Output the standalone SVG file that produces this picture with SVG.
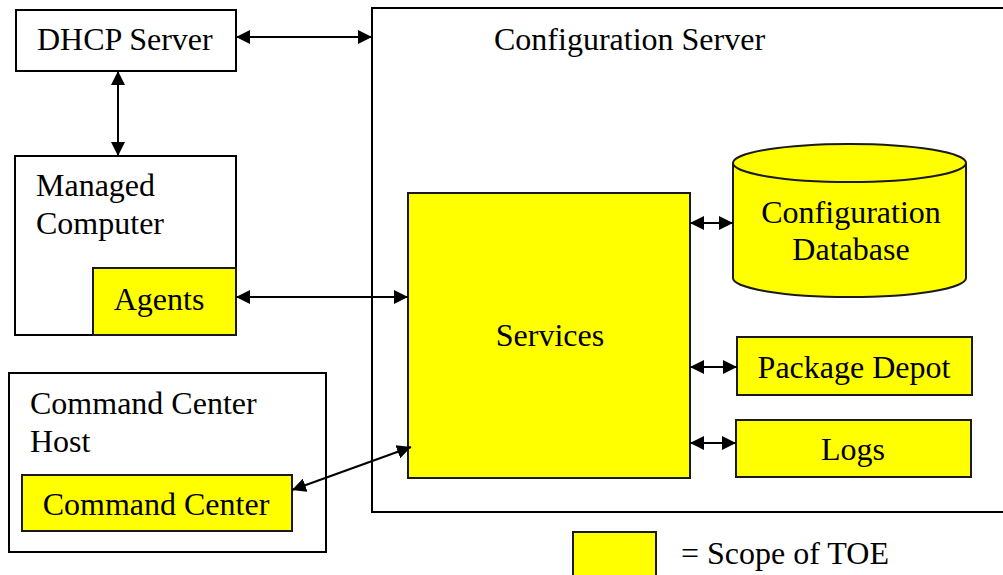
<svg xmlns="http://www.w3.org/2000/svg" width="1003" height="575" viewBox="0 0 1003 575">
  <style>
    .box { fill: #ffffff; stroke: #000000; stroke-width: 2; }
    .toe { fill: #ffff00; stroke: #1a1a1a; stroke-width: 2; }
    .lbl { font-family: "Liberation Serif", "Times New Roman", serif; font-size: 32px; fill: #000000; }
    .mid { text-anchor: middle; }
    .conn { stroke: #000000; stroke-width: 2; fill: none; marker-start: url(#head); marker-end: url(#head); }
  </style>
  <defs>
    <marker id="head" viewBox="0 0 14 14" refX="14" refY="7" markerWidth="14" markerHeight="14" markerUnits="userSpaceOnUse" orient="auto-start-reverse">
      <path d="M0,0 L14,7 L0,14 Z" fill="#000000"/>
    </marker>
  </defs>

  <rect width="1003" height="575" fill="#ffffff"/>

  <g id="config-server">
    <rect class="box" x="372" y="8" width="640" height="504"/>
    <text class="lbl" x="494" y="50">Configuration Server</text>
  </g>

  <g id="dhcp-server">
    <rect class="box" x="16" y="10" width="220" height="61"/>
    <text class="lbl" x="37" y="50">DHCP Server</text>
  </g>

  <g id="managed-computer">
    <rect class="box" x="15" y="156" width="221" height="179"/>
    <text class="lbl" x="36" y="196">Managed</text>
    <text class="lbl" x="36" y="234">Computer</text>
  </g>

  <g id="agents">
    <rect class="toe" x="93" y="268" width="143" height="67"/>
    <text class="lbl mid" x="159" y="310">Agents</text>
  </g>

  <g id="command-center-host">
    <rect class="box" x="9" y="373" width="317" height="179"/>
    <text class="lbl" x="30" y="414">Command Center</text>
    <text class="lbl" x="30" y="452">Host</text>
  </g>

  <g id="command-center">
    <rect class="toe" x="22" y="475" width="270" height="56"/>
    <text class="lbl mid" x="156" y="515">Command Center</text>
  </g>

  <g id="services">
    <rect class="toe" x="408" y="193" width="282" height="285"/>
    <text class="lbl mid" x="550" y="346">Services</text>
  </g>

  <g id="config-database">
    <path class="toe" d="M733,163 L733,278 A116.5,19 0 0 0 966,278 L966,163 A116.5,19 0 0 0 733,163 Z"/>
    <path d="M733,163 A116.5,19 0 0 0 966,163" fill="none" stroke="#1a1a1a" stroke-width="2"/>
    <text class="lbl mid" x="851" y="223">Configuration</text>
    <text class="lbl mid" x="851" y="260">Database</text>
  </g>

  <g id="package-depot">
    <rect class="toe" x="737" y="337" width="235" height="58"/>
    <text class="lbl mid" x="854" y="378">Package Depot</text>
  </g>

  <g id="logs">
    <rect class="toe" x="736" y="420" width="235" height="57"/>
    <text class="lbl mid" x="853" y="460">Logs</text>
  </g>

  <g id="legend">
    <rect class="toe" x="573" y="532" width="83" height="46"/>
    <text class="lbl" x="681" y="564">= Scope of TOE</text>
  </g>

  <g id="connectors">
    <line class="conn" x1="236" y1="37" x2="372" y2="37"/>
    <line class="conn" x1="118" y1="71" x2="118" y2="156"/>
    <line class="conn" x1="236" y1="297" x2="408" y2="297"/>
    <line class="conn" x1="292" y1="490" x2="411" y2="447"/>
    <line class="conn" x1="690" y1="223" x2="733" y2="223"/>
    <line class="conn" x1="690" y1="367" x2="737" y2="367"/>
    <line class="conn" x1="690" y1="443" x2="736" y2="443"/>
  </g>
</svg>
